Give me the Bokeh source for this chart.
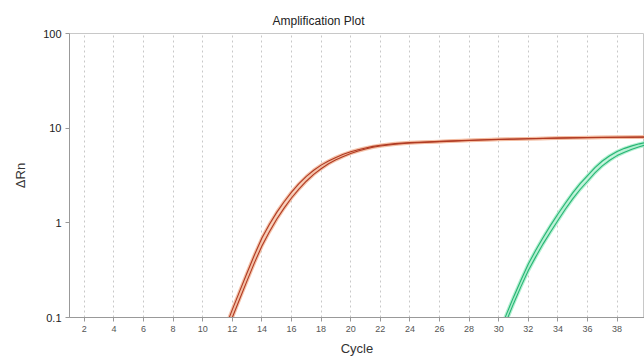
from bokeh.plotting import figure
from bokeh.models import Range1d, FixedTicker, CustomJSTickFormatter
from bokeh.embed import file_html
from bokeh.resources import INLINE

# ---- data ----
red_cycles = [10, 11, 11.5, 12, 12.5, 13, 13.5, 14, 14.5, 15, 15.5, 16, 16.5, 17,
              17.5, 18, 18.5, 19, 19.5, 20, 20.5, 21, 21.5, 22, 23, 24, 25, 26,
              27, 28, 29, 30, 31, 32, 33, 34, 35, 36, 37, 38, 39, 40]
red_rep_a = [0.019, 0.048, 0.076, 0.121, 0.19, 0.297, 0.46, 0.69, 0.96, 1.29, 1.67,
             2.11, 2.59, 3.09, 3.59, 4.07, 4.50, 4.91, 5.29, 5.63, 5.92, 6.18,
             6.42, 6.60, 6.87, 7.04, 7.15, 7.25, 7.35, 7.45, 7.55, 7.62, 7.68,
             7.74, 7.80, 7.86, 7.92, 7.96, 8.00, 8.03, 8.05, 8.07]
red_rep_b = [0.016, 0.040, 0.063, 0.100, 0.157, 0.245, 0.38, 0.57, 0.80, 1.09, 1.43,
             1.83, 2.27, 2.75, 3.25, 3.73, 4.20, 4.63, 5.03, 5.41, 5.74, 6.02,
             6.28, 6.48, 6.77, 6.96, 7.08, 7.20, 7.30, 7.40, 7.50, 7.58, 7.65,
             7.72, 7.78, 7.84, 7.90, 7.94, 7.98, 8.01, 8.03, 8.05]

green_cycles = [29, 30, 30.5, 31, 31.5, 32, 32.5, 33, 33.5, 34, 34.5, 35, 35.5,
                36, 36.5, 37, 37.5, 38, 38.5, 39, 39.5, 40]
green_rep_a = [0.027, 0.067, 0.106, 0.164, 0.248, 0.367, 0.513, 0.70, 0.94, 1.24,
               1.61, 2.07, 2.59, 3.15, 3.83, 4.50, 5.12, 5.67, 6.12, 6.50, 6.83, 7.10]
green_rep_b = [0.023, 0.057, 0.090, 0.140, 0.212, 0.313, 0.437, 0.60, 0.80, 1.06,
               1.39, 1.79, 2.25, 2.75, 3.37, 4.00, 4.58, 5.13, 5.58, 6.00, 6.37, 6.70]

x_ticks = [2, 4, 6, 8, 10, 12, 14, 16, 18, 20, 22, 24, 26, 28, 30, 32, 34, 36, 38, 40]
y_ticks = [0.1, 1, 10, 100]

p = figure(width=644, height=358, output_backend="svg", toolbar_location=None,
           y_axis_type="log",
           x_range=Range1d(1, 39.85), y_range=Range1d(0.1, 100),
           min_border_left=69, min_border_right=0, min_border_top=33,
           min_border_bottom=41)

p.title.text = "Amplification Plot"
p.title.align = "left"
p.title.offset = 203
p.title.text_font = "Liberation Sans"
p.title.text_font_size = "12px"
p.title.text_font_style = "normal"
p.title.text_color = "#222222"
p.title.standoff = 11

p.outline_line_color = "#c8c8c8"
p.background_fill_color = "white"
p.border_fill_color = "white"

# grids
p.xgrid.ticker = FixedTicker(ticks=x_ticks)
p.xgrid.grid_line_color = "#c8c8c8"
p.xgrid.grid_line_dash = "2 3"
p.ygrid.grid_line_color = None

# x axis
xa = p.xaxis[0]
xa.ticker = FixedTicker(ticks=x_ticks)
xa.axis_label = "Cycle"
xa.axis_label_text_font = "Liberation Sans"
xa.axis_label_text_font_size = "13px"
xa.axis_label_text_font_style = "normal"
xa.axis_label_text_color = "#333333"
xa.axis_label_standoff = 6
xa.major_label_text_font = "Liberation Sans"
xa.major_label_text_font_size = "9px"
xa.major_label_text_color = "#555555"
xa.major_label_standoff = 4
xa.axis_line_color = "#999999"
xa.major_tick_line_color = "#999999"
xa.major_tick_out = 4
xa.major_tick_in = 0
xa.minor_tick_line_color = None

# y axis
ya = p.yaxis[0]
ya.ticker = FixedTicker(ticks=y_ticks)
ya.formatter = CustomJSTickFormatter(code="return tick < 1 ? tick.toFixed(1) : tick.toFixed(0);")
ya.axis_label = "ΔRn"
ya.axis_label_text_font = "Liberation Sans"
ya.axis_label_text_font_size = "13px"
ya.axis_label_text_font_style = "normal"
ya.axis_label_text_color = "#333333"
ya.axis_label_standoff = 12
ya.major_label_text_font = "Liberation Sans"
ya.major_label_text_font_size = "11px"
ya.major_label_text_color = "#222222"
ya.major_label_standoff = 4
ya.axis_line_color = "#999999"
ya.major_tick_line_color = "#999999"
ya.major_tick_out = 4
ya.major_tick_in = 0
ya.minor_tick_line_color = None

# curves: light halo then dark core
for ys in (red_rep_a, red_rep_b):
    p.line(red_cycles, ys, line_color="#f2b89c", line_width=3.5, line_alpha=0.85)
for ys in (red_rep_a, red_rep_b):
    p.line(red_cycles, ys, line_color="#b03a22", line_width=1.1)

for ys in (green_rep_a, green_rep_b):
    p.line(green_cycles, ys, line_color="#a6ecc9", line_width=3.5, line_alpha=0.85)
for ys in (green_rep_a, green_rep_b):
    p.line(green_cycles, ys, line_color="#27b574", line_width=1.1)

open("out.html", "w").write(file_html(p, INLINE))
